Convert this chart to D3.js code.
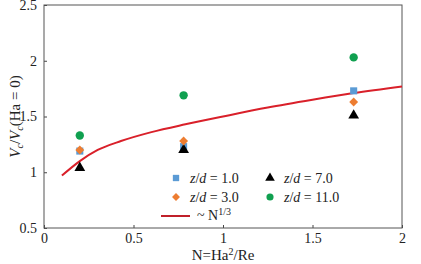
<!DOCTYPE html>
<html>
<head>
<meta charset="utf-8">
<script src="https://cdn.jsdelivr.net/npm/d3@7"></script>
<style>
  body { margin: 0; background: #fff; }
  svg text { font-family: "Liberation Serif", "Times New Roman", Times, serif; fill: #222; }
</style>
</head>
<body>
<div id="chart"></div>
<script>
// values
let nValues = [0.2, 0.78, 1.73]
let zd1 = [1.19, 1.23, 1.73]
let zd3 = [1.2, 1.28, 1.63]
let zd7 = [1.04, 1.2, 1.51]
let zd11 = [1.33, 1.69, 2.03]
let fitN = [0.1, 0.2, 0.3, 0.43, 0.6, 0.79, 1.0, 1.25, 1.5, 1.73, 2.0]
let fitV = [0.97, 1.1, 1.2, 1.28, 1.36, 1.43, 1.5, 1.58, 1.65, 1.71, 1.77]
let xTicks = [0, 0.5, 1, 1.5, 2]
let yTicks = [0.5, 1, 1.5, 2, 2.5]

const serif = '"Liberation Serif", "Times New Roman", Times, serif'

let width = 421, height = 264
let margin = {top: 5, right: 19, bottom: 36, left: 44}
let w = width - margin.left - margin.right
let h = height - margin.top - margin.bottom

let x = d3.scaleLinear().domain([0, 2]).range([0, w])
let y = d3.scaleLinear().domain([0.5, 2.5]).range([h, 0])

let svg = d3.select('#chart').append('svg')
    .attr('width', width)
    .attr('height', height)
let g = svg.append('g')
    .attr('transform', "translate(" + margin.left + "," + margin.top + ")")

// axes, ticks point inward
let xAxis = d3.axisBottom(x).tickValues(xTicks).tickSizeInner(-3).tickSizeOuter(0)
    .tickFormat(d3.format('~g')).tickPadding(5)
let yAxis = d3.axisLeft(y).tickValues(yTicks).tickSizeInner(-3).tickSizeOuter(0)
    .tickFormat(d3.format('~g')).tickPadding(7)

let gx = g.append('g').attr('transform', "translate(0," + h + ")").call(xAxis)
let gy = g.append('g').call(yAxis)
;[gx, gy].forEach(a => {
    a.attr('font-family', serif)
    a.select('.domain').remove()
    a.selectAll('line').attr('stroke', '#444')
    a.selectAll('text').attr('font-family', serif).style('font-size', '14px').attr('fill', '#222')
})

g.append('rect')
    .attr('width', w).attr('height', h)
    .attr('fill', 'none').attr('stroke', '#555').attr('stroke-width', 1)

// fit curve
let line = d3.line().x(d => x(d[0])).y(d => y(d[1])).curve(d3.curveMonotoneX)
g.append('path')
    .datum(fitN.map((n, i) => [n, fitV[i]]))
    .attr('d', line)
    .attr('fill', 'none').attr('stroke', '#d9202a').attr('stroke-width', 2)

let series = [
    {name: '1.0', vals: zd1, color: '#5b9bd5', shape: d3.symbolSquare, size: 50},
    {name: '7.0', vals: zd7, color: '#000', shape: d3.symbolTriangle, size: 50},
    {name: '3.0', vals: zd3, color: '#ed7d31', shape: d3.symbolDiamond2, size: 50},
    {name: '11.0', vals: zd11, color: '#10a050', shape: d3.symbolCircle, size: 55}
]

series.forEach(s => {
    g.selectAll(null)
        .data(s.vals)
        .enter().append('path')
        .attr('d', d3.symbol().type(s.shape).size(s.size))
        .attr('transform', (d, i) => "translate(" + x(nValues[i]) + "," + y(d) + ")")
        .attr('fill', s.color)
})

// legend
let legendPos = [[176, 178], [270, 178], [176, 197], [270, 197]]
series.forEach((s, i) => {
    let lg = svg.append('g').attr('transform', "translate(" + legendPos[i][0] + "," + legendPos[i][1] + ")")
    lg.append('path').attr('d', d3.symbol().type(s.shape).size(40)).attr('fill', s.color)
    let t = lg.append('text').attr('x', 14).attr('y', 5).style('font-size', '14px')
    t.append('tspan').style('font-style', 'italic').text('z')
    t.append('tspan').text('/')
    t.append('tspan').style('font-style', 'italic').text('d')
    t.append('tspan').text(' = ' + s.name)
})
svg.append('line').attr('x1', 161).attr('x2', 190).attr('y1', 216).attr('y2', 216)
    .attr('stroke', '#c0202a').attr('stroke-width', 2)
let ft = svg.append('text').attr('x', 197).attr('y', 220).style('font-size', '14px')
ft.append('tspan').text('~ N')
ft.append('tspan').attr('dy', -5).style('font-size', '10px').text('1/3')

// axis titles
let xt = svg.append('text').attr('x', margin.left + w / 2).attr('y', 260)
    .attr('text-anchor', 'middle').style('font-size', '15px')
xt.append('tspan').text('N=Ha')
xt.append('tspan').attr('dy', -5).style('font-size', '10px').text('2')
xt.append('tspan').attr('dy', 5).text('/Re')

let yt = svg.append('text')
    .attr('transform', "translate(20," + (margin.top + h / 2) + ") rotate(-90)")
    .attr('text-anchor', 'middle').style('font-size', '15px')
yt.append('tspan').style('font-style', 'italic').text('V')
yt.append('tspan').attr('dy', 3).style('font-size', '10px').style('font-style', 'italic').text('c')
yt.append('tspan').attr('dy', -3).text('/')
yt.append('tspan').style('font-style', 'italic').text('V')
yt.append('tspan').attr('dy', 3).style('font-size', '10px').style('font-style', 'italic').text('c')
yt.append('tspan').attr('dy', -3).text('(Ha = 0)')
</script>
</body>
</html>
